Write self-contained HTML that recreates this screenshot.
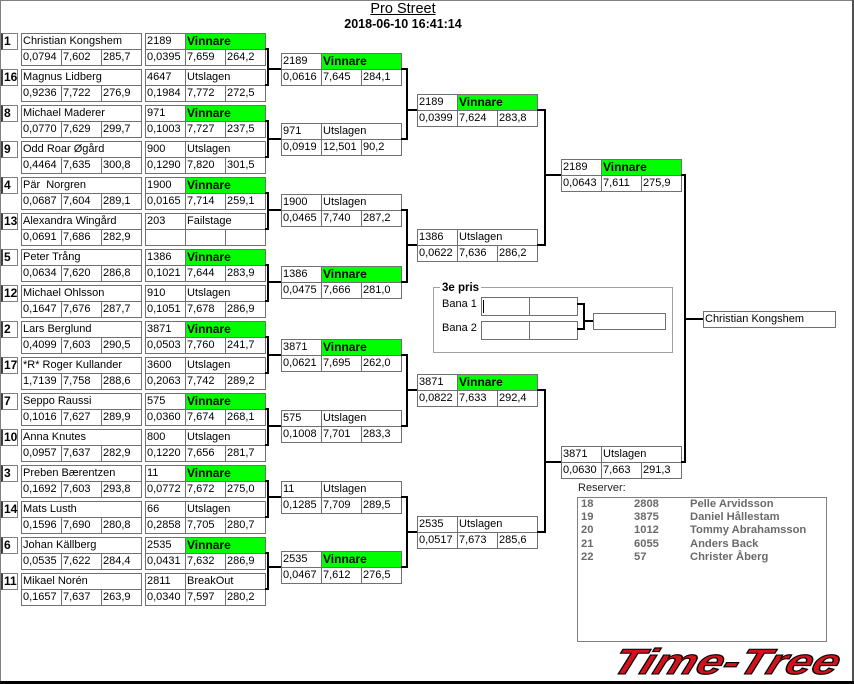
<!DOCTYPE html>
<html><head><meta charset="utf-8">
<style>
html,body{margin:0;padding:0;background:#fff;}
#p{position:relative;width:854px;height:684px;overflow:hidden;background:#fff;font-family:"Liberation Sans",sans-serif;}
.b{position:absolute;width:0;height:0;}
.c{position:absolute;box-sizing:border-box;border:1px solid #707070;height:17px;font:11px/15px "Liberation Sans",sans-serif;padding-left:1px;white-space:nowrap;overflow:hidden;color:#000;background:#fff;}
.nm{left:0;top:0;width:121px;}
.n{left:0;top:0;width:41px;}
.t{left:40px;top:0;width:81px;}
.x{left:0;top:16px;width:41px;}
.y{left:40px;top:16px;width:41px;}
.z{left:80px;top:16px;width:41px;}
.g{background:#00ff00;font-weight:bold;font-size:12px;}
.s{position:absolute;left:1px;width:17px;height:17px;box-sizing:border-box;border:1px solid #808080;border-left:2px solid #404040;font:bold 12px/15px "Liberation Sans",sans-serif;padding-left:1px;color:#000;}
.br{position:absolute;box-sizing:border-box;border:2px solid #000;border-left:0;}
.h{position:absolute;height:2px;background:#000;}
.rs{position:absolute;font:bold 11.2px/13px "Liberation Sans",sans-serif;color:#6a6a6a;white-space:nowrap;}
</style></head>
<body><div id="p">
<!-- frame -->
<div style="position:absolute;left:0;top:0;width:854px;height:1px;background:#808080"></div>
<div style="position:absolute;left:0;top:0;width:1px;height:684px;background:#808080"></div>
<div style="position:absolute;left:852px;top:0;width:2px;height:684px;background:#505050"></div>
<div style="position:absolute;left:0;top:681px;width:854px;height:3px;background:#000"></div>

<!-- title -->
<div style="position:absolute;left:303px;top:1px;width:200px;text-align:center;font:14.5px/16px 'Liberation Sans',sans-serif;text-decoration:underline;">Pro Street</div>
<div style="position:absolute;left:303px;top:17px;width:200px;text-align:center;font:bold 12.5px/14px 'Liberation Sans',sans-serif;">2018-06-10 16:41:14</div>

<!-- seeds -->
<div class="s" style="top:33px">1</div>
<div class="s" style="top:69px">16</div>
<div class="s" style="top:105px">8</div>
<div class="s" style="top:141px">9</div>
<div class="s" style="top:177px">4</div>
<div class="s" style="top:213px">13</div>
<div class="s" style="top:249px">5</div>
<div class="s" style="top:285px">12</div>
<div class="s" style="top:321px">2</div>
<div class="s" style="top:357px">17</div>
<div class="s" style="top:393px">7</div>
<div class="s" style="top:429px">10</div>
<div class="s" style="top:465px">3</div>
<div class="s" style="top:501px">14</div>
<div class="s" style="top:537px">6</div>
<div class="s" style="top:573px">11</div>

<!-- R1 names -->
<div class="b" style="left:21px;top:33px"><div class="c nm">Christian Kongshem</div><div class="c x">0,0794</div><div class="c y">7,602</div><div class="c z">285,7</div></div>
<div class="b" style="left:21px;top:69px"><div class="c nm">Magnus Lidberg</div><div class="c x">0,9236</div><div class="c y">7,722</div><div class="c z">276,9</div></div>
<div class="b" style="left:21px;top:105px"><div class="c nm">Michael Maderer</div><div class="c x">0,0770</div><div class="c y">7,629</div><div class="c z">299,7</div></div>
<div class="b" style="left:21px;top:141px"><div class="c nm">Odd Roar Øgård</div><div class="c x">0,4464</div><div class="c y">7,635</div><div class="c z">300,8</div></div>
<div class="b" style="left:21px;top:177px"><div class="c nm">Pär&nbsp; Norgren</div><div class="c x">0,0687</div><div class="c y">7,604</div><div class="c z">289,1</div></div>
<div class="b" style="left:21px;top:213px"><div class="c nm">Alexandra Wingård</div><div class="c x">0,0691</div><div class="c y">7,686</div><div class="c z">282,9</div></div>
<div class="b" style="left:21px;top:249px"><div class="c nm">Peter Trång</div><div class="c x">0,0634</div><div class="c y">7,620</div><div class="c z">286,8</div></div>
<div class="b" style="left:21px;top:285px"><div class="c nm">Michael Ohlsson</div><div class="c x">0,1647</div><div class="c y">7,676</div><div class="c z">287,7</div></div>
<div class="b" style="left:21px;top:321px"><div class="c nm">Lars Berglund</div><div class="c x">0,4099</div><div class="c y">7,603</div><div class="c z">290,5</div></div>
<div class="b" style="left:21px;top:357px"><div class="c nm">*R* Roger Kullander</div><div class="c x">1,7139</div><div class="c y">7,758</div><div class="c z">288,6</div></div>
<div class="b" style="left:21px;top:393px"><div class="c nm">Seppo Raussi</div><div class="c x">0,1016</div><div class="c y">7,627</div><div class="c z">289,9</div></div>
<div class="b" style="left:21px;top:429px"><div class="c nm">Anna Knutes</div><div class="c x">0,0957</div><div class="c y">7,637</div><div class="c z">282,9</div></div>
<div class="b" style="left:21px;top:465px"><div class="c nm">Preben Bærentzen</div><div class="c x">0,1692</div><div class="c y">7,603</div><div class="c z">293,8</div></div>
<div class="b" style="left:21px;top:501px"><div class="c nm">Mats Lusth</div><div class="c x">0,1596</div><div class="c y">7,690</div><div class="c z">280,8</div></div>
<div class="b" style="left:21px;top:537px"><div class="c nm">Johan Källberg</div><div class="c x">0,0535</div><div class="c y">7,622</div><div class="c z">284,4</div></div>
<div class="b" style="left:21px;top:573px"><div class="c nm">Mikael Norén</div><div class="c x">0,1657</div><div class="c y">7,637</div><div class="c z">263,9</div></div>

<!-- R1 results -->
<div class="b" style="left:145px;top:33px"><div class="c n">2189</div><div class="c t g">Vinnare</div><div class="c x">0,0395</div><div class="c y">7,659</div><div class="c z">264,2</div></div>
<div class="b" style="left:145px;top:69px"><div class="c n">4647</div><div class="c t">Utslagen</div><div class="c x">0,1984</div><div class="c y">7,772</div><div class="c z">272,5</div></div>
<div class="b" style="left:145px;top:105px"><div class="c n">971</div><div class="c t g">Vinnare</div><div class="c x">0,1003</div><div class="c y">7,727</div><div class="c z">237,5</div></div>
<div class="b" style="left:145px;top:141px"><div class="c n">900</div><div class="c t">Utslagen</div><div class="c x">0,1290</div><div class="c y">7,820</div><div class="c z">301,5</div></div>
<div class="b" style="left:145px;top:177px"><div class="c n">1900</div><div class="c t g">Vinnare</div><div class="c x">0,0165</div><div class="c y">7,714</div><div class="c z">259,1</div></div>
<div class="b" style="left:145px;top:213px"><div class="c n">203</div><div class="c t">Failstage</div><div class="c x"></div><div class="c y"></div><div class="c z"></div></div>
<div class="b" style="left:145px;top:249px"><div class="c n">1386</div><div class="c t g">Vinnare</div><div class="c x">0,1021</div><div class="c y">7,644</div><div class="c z">283,9</div></div>
<div class="b" style="left:145px;top:285px"><div class="c n">910</div><div class="c t">Utslagen</div><div class="c x">0,1051</div><div class="c y">7,678</div><div class="c z">286,9</div></div>
<div class="b" style="left:145px;top:321px"><div class="c n">3871</div><div class="c t g">Vinnare</div><div class="c x">0,0503</div><div class="c y">7,760</div><div class="c z">241,7</div></div>
<div class="b" style="left:145px;top:357px"><div class="c n">3600</div><div class="c t">Utslagen</div><div class="c x">0,2063</div><div class="c y">7,742</div><div class="c z">289,2</div></div>
<div class="b" style="left:145px;top:393px"><div class="c n">575</div><div class="c t g">Vinnare</div><div class="c x">0,0360</div><div class="c y">7,674</div><div class="c z">268,1</div></div>
<div class="b" style="left:145px;top:429px"><div class="c n">800</div><div class="c t">Utslagen</div><div class="c x">0,1220</div><div class="c y">7,656</div><div class="c z">281,7</div></div>
<div class="b" style="left:145px;top:465px"><div class="c n">11</div><div class="c t g">Vinnare</div><div class="c x">0,0772</div><div class="c y">7,672</div><div class="c z">275,0</div></div>
<div class="b" style="left:145px;top:501px"><div class="c n">66</div><div class="c t">Utslagen</div><div class="c x">0,2858</div><div class="c y">7,705</div><div class="c z">280,7</div></div>
<div class="b" style="left:145px;top:537px"><div class="c n">2535</div><div class="c t g">Vinnare</div><div class="c x">0,0431</div><div class="c y">7,632</div><div class="c z">286,9</div></div>
<div class="b" style="left:145px;top:573px"><div class="c n">2811</div><div class="c t">BreakOut</div><div class="c x">0,0340</div><div class="c y">7,597</div><div class="c z">280,2</div></div>

<!-- R1 -> R2 connectors -->
<div class="br" style="left:265px;top:48px;width:4px;height:38px"></div><div class="h" style="left:267px;top:68px;width:14px"></div>
<div class="br" style="left:265px;top:120px;width:4px;height:38px"></div><div class="h" style="left:267px;top:138px;width:14px"></div>
<div class="br" style="left:265px;top:192px;width:4px;height:38px"></div><div class="h" style="left:267px;top:209px;width:14px"></div>
<div class="br" style="left:265px;top:264px;width:4px;height:38px"></div><div class="h" style="left:267px;top:281px;width:14px"></div>
<div class="br" style="left:265px;top:336px;width:4px;height:38px"></div><div class="h" style="left:267px;top:354px;width:14px"></div>
<div class="br" style="left:265px;top:408px;width:4px;height:38px"></div><div class="h" style="left:267px;top:425px;width:14px"></div>
<div class="br" style="left:265px;top:480px;width:4px;height:38px"></div><div class="h" style="left:267px;top:496px;width:14px"></div>
<div class="br" style="left:265px;top:552px;width:4px;height:38px"></div><div class="h" style="left:267px;top:566px;width:14px"></div>

<!-- R2 -->
<div class="b" style="left:281px;top:53px"><div class="c n">2189</div><div class="c t g">Vinnare</div><div class="c x">0,0616</div><div class="c y">7,645</div><div class="c z">284,1</div></div>
<div class="b" style="left:281px;top:123px"><div class="c n">971</div><div class="c t">Utslagen</div><div class="c x">0,0919</div><div class="c y">12,501</div><div class="c z">90,2</div></div>
<div class="b" style="left:281px;top:194px"><div class="c n">1900</div><div class="c t">Utslagen</div><div class="c x">0,0465</div><div class="c y">7,740</div><div class="c z">287,2</div></div>
<div class="b" style="left:281px;top:266px"><div class="c n">1386</div><div class="c t g">Vinnare</div><div class="c x">0,0475</div><div class="c y">7,666</div><div class="c z">281,0</div></div>
<div class="b" style="left:281px;top:339px"><div class="c n">3871</div><div class="c t g">Vinnare</div><div class="c x">0,0621</div><div class="c y">7,695</div><div class="c z">262,0</div></div>
<div class="b" style="left:281px;top:410px"><div class="c n">575</div><div class="c t">Utslagen</div><div class="c x">0,1008</div><div class="c y">7,701</div><div class="c z">283,3</div></div>
<div class="b" style="left:281px;top:481px"><div class="c n">11</div><div class="c t">Utslagen</div><div class="c x">0,1285</div><div class="c y">7,709</div><div class="c z">289,5</div></div>
<div class="b" style="left:281px;top:551px"><div class="c n">2535</div><div class="c t g">Vinnare</div><div class="c x">0,0467</div><div class="c y">7,612</div><div class="c z">276,5</div></div>

<!-- R2 -> R3 connectors -->
<div class="br" style="left:401px;top:68px;width:7px;height:72px"></div><div class="h" style="left:406px;top:109px;width:11px"></div>
<div class="br" style="left:401px;top:209px;width:7px;height:74px"></div><div class="h" style="left:406px;top:244px;width:11px"></div>
<div class="br" style="left:401px;top:354px;width:7px;height:73px"></div><div class="h" style="left:406px;top:389px;width:11px"></div>
<div class="br" style="left:401px;top:496px;width:7px;height:72px"></div><div class="h" style="left:406px;top:531px;width:11px"></div>

<!-- R3 -->
<div class="b" style="left:417px;top:94px"><div class="c n">2189</div><div class="c t g">Vinnare</div><div class="c x">0,0399</div><div class="c y">7,624</div><div class="c z">283,8</div></div>
<div class="b" style="left:417px;top:229px"><div class="c n">1386</div><div class="c t">Utslagen</div><div class="c x">0,0622</div><div class="c y">7,636</div><div class="c z">286,2</div></div>
<div class="b" style="left:417px;top:374px"><div class="c n">3871</div><div class="c t g">Vinnare</div><div class="c x">0,0822</div><div class="c y">7,633</div><div class="c z">292,4</div></div>
<div class="b" style="left:417px;top:516px"><div class="c n">2535</div><div class="c t">Utslagen</div><div class="c x">0,0517</div><div class="c y">7,673</div><div class="c z">285,6</div></div>

<!-- R3 -> R4 connectors -->
<div class="br" style="left:537px;top:109px;width:9px;height:137px"></div><div class="h" style="left:544px;top:174px;width:17px"></div>
<div class="br" style="left:537px;top:389px;width:9px;height:144px"></div><div class="h" style="left:544px;top:461px;width:17px"></div>

<!-- R4 -->
<div class="b" style="left:561px;top:159px"><div class="c n">2189</div><div class="c t g">Vinnare</div><div class="c x">0,0643</div><div class="c y">7,611</div><div class="c z">275,9</div></div>
<div class="b" style="left:561px;top:446px"><div class="c n">3871</div><div class="c t">Utslagen</div><div class="c x">0,0630</div><div class="c y">7,663</div><div class="c z">291,3</div></div>

<!-- R4 -> winner -->
<div class="br" style="left:681px;top:174px;width:5px;height:289px"></div><div class="h" style="left:684px;top:318px;width:19px"></div>
<div class="c" style="left:703px;top:311px;width:133px;">Christian Kongshem</div>

<!-- 3e pris -->
<div style="position:absolute;left:433px;top:287px;width:240px;height:66px;box-sizing:border-box;border:1px solid #a0a0a0;"></div>
<div style="position:absolute;left:440px;top:281px;padding:0 2px;background:#fff;font:bold 11.5px/14px 'Liberation Sans',sans-serif;">3e pris</div>
<div style="position:absolute;left:442px;top:297px;font:11px/14px 'Liberation Sans',sans-serif;">Bana 1</div>
<div style="position:absolute;left:442px;top:321px;font:11px/14px 'Liberation Sans',sans-serif;">Bana 2</div>
<div class="c" style="left:481px;top:297px;width:49px;height:19px;"></div>
<div class="c" style="left:529px;top:297px;width:49px;height:19px;"></div>
<div class="c" style="left:481px;top:321px;width:49px;height:19px;"></div>
<div class="c" style="left:529px;top:321px;width:49px;height:19px;"></div>
<div style="position:absolute;left:483px;top:300px;width:1px;height:13px;background:#000"></div>
<div class="br" style="left:577px;top:303px;width:8px;height:27px"></div>
<div class="h" style="left:583px;top:320px;width:10px"></div>
<div class="c" style="left:593px;top:313px;width:73px;"></div>

<!-- reserves -->
<div style="position:absolute;left:578px;top:481px;font:11px/14px 'Liberation Sans',sans-serif;color:#222;">Reserver:</div>
<div style="position:absolute;left:577px;top:497px;width:250px;height:145px;box-sizing:border-box;border:1px solid #808080;"></div>
<div class="rs" style="left:581px;top:498px">18</div><div class="rs" style="left:634px;top:498px">2808</div><div class="rs" style="left:690px;top:498px">Pelle Arvidsson</div>
<div class="rs" style="left:581px;top:511px">19</div><div class="rs" style="left:634px;top:511px">3875</div><div class="rs" style="left:690px;top:511px">Daniel Hållestam</div>
<div class="rs" style="left:581px;top:524px">20</div><div class="rs" style="left:634px;top:524px">1012</div><div class="rs" style="left:690px;top:524px">Tommy Abrahamsson</div>
<div class="rs" style="left:581px;top:538px">21</div><div class="rs" style="left:634px;top:538px">6055</div><div class="rs" style="left:690px;top:538px">Anders Back</div>
<div class="rs" style="left:581px;top:551px">22</div><div class="rs" style="left:634px;top:551px">57</div><div class="rs" style="left:690px;top:551px">Christer Åberg</div>

<!-- logo -->
<svg style="position:absolute;left:600px;top:640px" width="252" height="40" viewBox="0 0 252 40">
<text x="22" y="34" font-family="Liberation Sans, sans-serif" font-weight="bold" font-style="italic" font-size="36" fill="#d4121c" stroke="#000" stroke-width="1.1" textLength="226" lengthAdjust="spacingAndGlyphs" transform="skewX(-20)">Time-Tree</text>
</svg>
</div></body></html>
